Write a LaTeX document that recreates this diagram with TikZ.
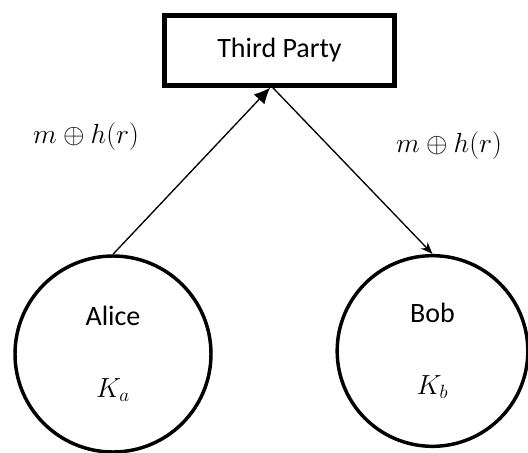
\documentclass[tikz,border=0pt]{standalone}
\usepackage{fontspec}
\setmainfont{Carlito}
\usetikzlibrary{arrows.meta}

\begin{document}
\begin{tikzpicture}[x=0.75pt, y=-0.75pt,
    party/.style={draw, line width=3.75pt, minimum width=172pt, minimum height=52pt,
        inner sep=0pt, font=\fontsize{21}{25}\selectfont},
    user/.style={draw, circle, line width=2.6pt, inner sep=0pt, align=center,
        font=\fontsize{21}{54}\selectfont},
    msg/.style={font=\fontsize{22}{26}\selectfont}]
    \useasboundingbox (0,0) rectangle (528,453);

    % 第三方
    \node[party] (party) at (279.5,50.5) {Third Party};

    % 双方
    \node[user, minimum size=147pt] (alice) at (113,354) {Alice\\$K_a$};
    \node[user, minimum size=143pt] (bob) at (432.5,351) {Bob\\$K_b$};

    % 传递
    \draw[line width=1pt, -{Latex[length=12pt, width=11pt]}] (alice.north) -- ([xshift=-7pt]party.south);
    \draw[line width=1pt, -{Stealth[length=9pt, width=7pt]}] ([xshift=-5pt]party.south) -- (bob.north);

    % 消息
    \node[msg] (msgA) at (86,137) {$m\oplus h(r)$};
    \node[msg] (msgB) at (449,146) {$m\oplus h(r)$};
\end{tikzpicture}
\end{document}
